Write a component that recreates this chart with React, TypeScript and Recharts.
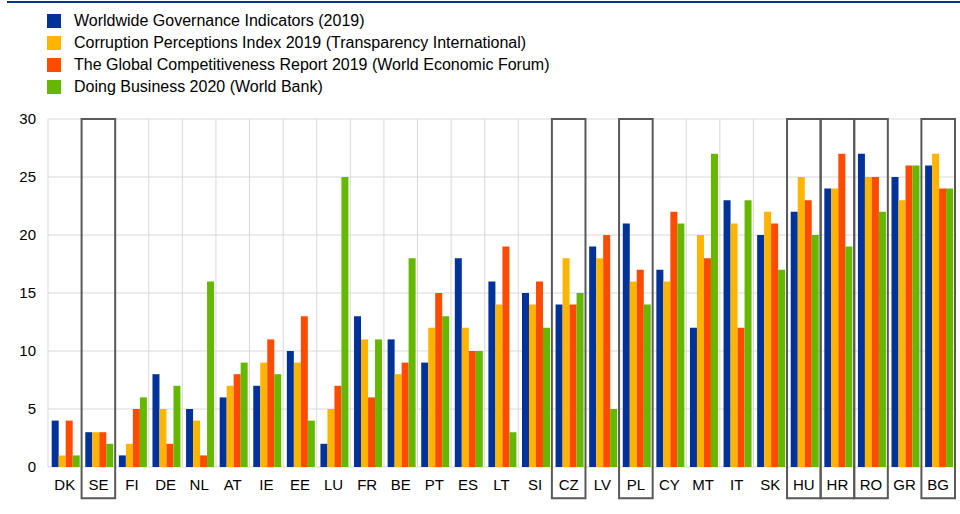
import { BarChart, Bar, XAxis, YAxis, CartesianGrid, Legend, ReferenceArea } from "recharts";

const countries = ["DK", "SE", "FI", "DE", "NL", "AT", "IE", "EE", "LU", "FR", "BE", "PT", "ES", "LT", "SI", "CZ", "LV", "PL", "CY", "MT", "IT", "SK", "HU", "HR", "RO", "GR", "BG"];
const wgi = [4, 3, 1, 8, 5, 6, 7, 10, 2, 13, 11, 9, 18, 16, 15, 14, 19, 21, 17, 12, 23, 20, 22, 24, 27, 25, 26];
const cpi = [1, 3, 2, 5, 4, 7, 9, 9, 5, 11, 8, 12, 12, 14, 14, 18, 18, 16, 16, 20, 21, 22, 25, 24, 25, 23, 27];
const gcr = [4, 3, 5, 2, 1, 8, 11, 13, 7, 6, 9, 15, 10, 19, 16, 14, 20, 17, 22, 18, 12, 21, 23, 27, 25, 26, 24];
const dbi = [1, 2, 6, 7, 16, 9, 8, 4, 25, 11, 18, 13, 10, 3, 12, 15, 5, 14, 21, 27, 23, 17, 20, 19, 22, 26, 24];
const highlighted = ["SE", "CZ", "PL", "HU", "HR", "RO", "BG"];
const yTicks = [0, 5, 10, 15, 20, 25, 30];

const series = [
  { key: "wgi", name: "Worldwide Governance Indicators (2019)", color: "#003299" },
  { key: "cpi", name: "Corruption Perceptions Index 2019 (Transparency International)", color: "#FFB400" },
  { key: "gcr", name: "The Global Competitiveness Report 2019 (World Economic Forum)", color: "#FF4B00" },
  { key: "dbi", name: "Doing Business 2020 (World Bank)", color: "#65B800" },
];

const data = countries.map((c, i) => ({
  country: c,
  wgi: wgi[i],
  cpi: cpi[i],
  gcr: gcr[i],
  dbi: dbi[i],
}));

const font = "'Liberation Sans', Arial, sans-serif";

function LegendBox() {
  return (
    <div style={{ position: "absolute", left: 47, top: 10, fontFamily: font, fontSize: 16, color: "#000" }}>
      {series.map((s) => (
        <div key={s.key} style={{ display: "flex", alignItems: "center", height: 22 }}>
          <span style={{ width: 14, height: 14, background: s.color, display: "inline-block", marginRight: 13 }} />
          <span>{s.name}</span>
        </div>
      ))}
    </div>
  );
}

export default function App() {
  const n = countries.length;
  return (
    <div style={{ position: "absolute", left: 0, top: 0, width: 960, height: 514, background: "#fff", fontFamily: font }}>
      <div style={{ position: "absolute", left: 7, right: 0, top: 1, height: 2, background: "#003299" }} />
      <BarChart
        width={960}
        height={514}
        data={data}
        margin={{ top: 119, right: 5, left: 8, bottom: 17 }}
        barCategoryGap="11%"
        barGap={0}
      >
        <CartesianGrid
          stroke="#d9d9d9"
          verticalCoordinatesGenerator={({ offset }: any) =>
            Array.from({ length: n + 1 }, (_, i) => offset.left + (i * offset.width) / n)
          }
        />
        <XAxis
          dataKey="country"
          height={30}
          axisLine={false}
          tickLine={false}
          tickSize={6}
          tickMargin={6}
          interval={0}
          tick={{ fill: "#000", fontSize: 15, fontFamily: font }}
        />
        <YAxis
          width={40}
          domain={[0, 30]}
          ticks={yTicks}
          axisLine={false}
          tickLine={false}
          tickSize={6}
          tickMargin={6}
          tick={{ fill: "#000", fontSize: 15, fontFamily: font }}
        />
        <Legend content={() => null} />
        {series.map((s) => (
          <Bar key={s.key} dataKey={s.key} name={s.name} fill={s.color} isAnimationActive={false} />
        ))}
        {highlighted.map((c) => (
          <ReferenceArea
            key={c}
            x1={c}
            x2={c}
            y1={-2.7}
            y2={30}
            ifOverflow="visible"
            fill="none"
            stroke="#595959"
            strokeWidth={2}
          />
        ))}
      </BarChart>
      <LegendBox />
    </div>
  );
}
